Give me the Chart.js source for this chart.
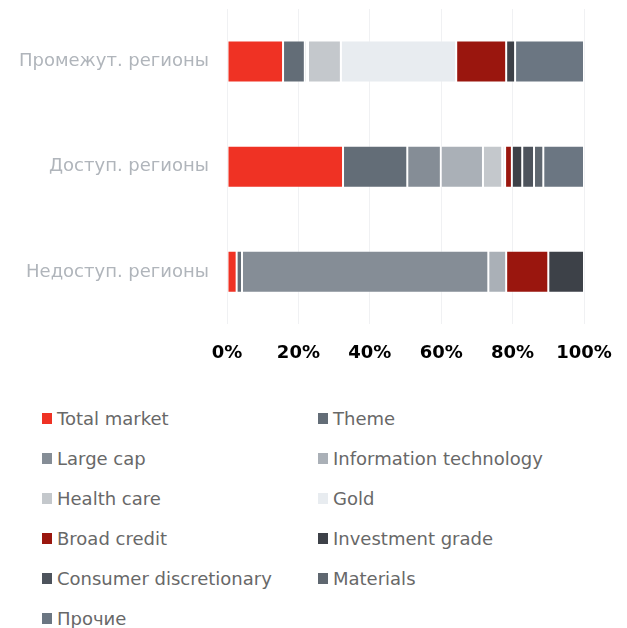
<!DOCTYPE html>
<html>
<head>
<meta charset="utf-8">
<script src="https://cdn.jsdelivr.net/npm/chart.js@4.4.1/dist/chart.umd.min.js"></script>
<style>
  html, body { margin: 0; padding: 0; background: #fff; }
  #wrap { position: relative; width: 627px; height: 399px; }
  #legend {
    display: grid;
    grid-template-columns: 276px auto;
    grid-auto-rows: 40px;
    padding-left: 42px;
    margin-top: -1px;
    font-family: "DejaVu Sans", sans-serif;
    font-size: 18px;
    color: #686868;
  }
  #legend .item { display: flex; align-items: center; white-space: nowrap; }
  #legend .box { width: 10px; height: 11px; margin-right: 5px; flex: none; }
</style>
</head>
<body>
<div id="wrap"><canvas id="chart"></canvas></div>
<div id="legend"></div>
<script>
// regions, top to bottom
const regions = ['Промежут. регионы', 'Доступ. регионы', 'Недоступ. регионы'];

// share of each fund type, % per region
const totalMarket   = [15.7, 32.5, 2.7];
const theme         = [6.1, 18.0, 1.5];
const largeCap      = [0.6, 9.4, 69.0];
const infoTech      = [0.3, 11.8, 5.0];
const healthCare    = [9.2, 5.4, 0];
const gold          = [32.3, 0.8, 0];
const broadCredit   = [14.0, 1.9, 11.8];
const invGrade      = [2.5, 2.9, 10.0];
const consumerDisc  = [0, 3.3, 0];
const materials     = [0, 2.6, 0];
const other         = [19.3, 11.4, 0];

const xTicks = [0, 20, 40, 60, 80, 100];

const series = [
  ['Total market', totalMarket, '#ef3224'],
  ['Theme', theme, '#636d77'],
  ['Large cap', largeCap, '#858d96'],
  ['Information technology', infoTech, '#aab0b7'],
  ['Health care', healthCare, '#c4c8cc'],
  ['Gold', gold, '#e8ecf0'],
  ['Broad credit', broadCredit, '#9a160e'],
  ['Investment grade', invGrade, '#3d4148'],
  ['Consumer discretionary', consumerDisc, '#4d535c'],
  ['Materials', materials, '#5f6770'],
  ['Прочие', other, '#6b7682']
];

const chart = new Chart(document.getElementById('chart'), {
  type: 'bar',
  data: {
    labels: regions,
    datasets: series.map(([label, data, color]) => ({
      label: label,
      data: data,
      backgroundColor: color,
      borderColor: 'rgba(255,255,255,0.3)',
      borderWidth: 1,
      borderSkipped: false,
      barPercentage: 0.5,
      categoryPercentage: 0.8
    }))
  },
  options: {
    indexAxis: 'y',
    responsive: true,
    maintainAspectRatio: false,
    animation: false,
    layout: { padding: { top: 9, right: 43, bottom: 17, left: 0 } },
    plugins: { legend: { display: false }, tooltip: { enabled: false } },
    scales: {
      x: {
        stacked: true,
        min: 0,
        max: 100,
        afterBuildTicks: (axis) => { axis.ticks = xTicks.map(v => ({ value: v })); },
        afterFit: (axis) => { axis.paddingLeft = 0; axis.paddingRight = 0; },
        grid: { color: '#f0f1f3', drawTicks: false },
        border: { display: false },
        ticks: {
          padding: 18,
          color: '#000',
          font: { family: 'DejaVu Sans', size: 18, weight: 'bold' },
          callback: (v) => v + '%'
        }
      },
      y: {
        stacked: true,
        afterFit: (axis) => {
          axis.width = 227;
          axis.paddingTop = 0;
          axis.paddingBottom = 0;
        },
        grid: { display: false, drawTicks: false },
        border: { display: false },
        ticks: {
          padding: 18,
          color: '#b0b5bb',
          font: { family: 'DejaVu Sans', size: 18 }
        }
      }
    }
  }
});

// legend in two columns, built from the datasets
const legend = document.getElementById('legend');
chart.data.datasets.forEach(ds => {
  const item = document.createElement('div');
  item.className = 'item';
  const box = document.createElement('span');
  box.className = 'box';
  box.style.background = ds.backgroundColor;
  item.appendChild(box);
  item.appendChild(document.createTextNode(ds.label));
  legend.appendChild(item);
});
</script>
</body>
</html>
